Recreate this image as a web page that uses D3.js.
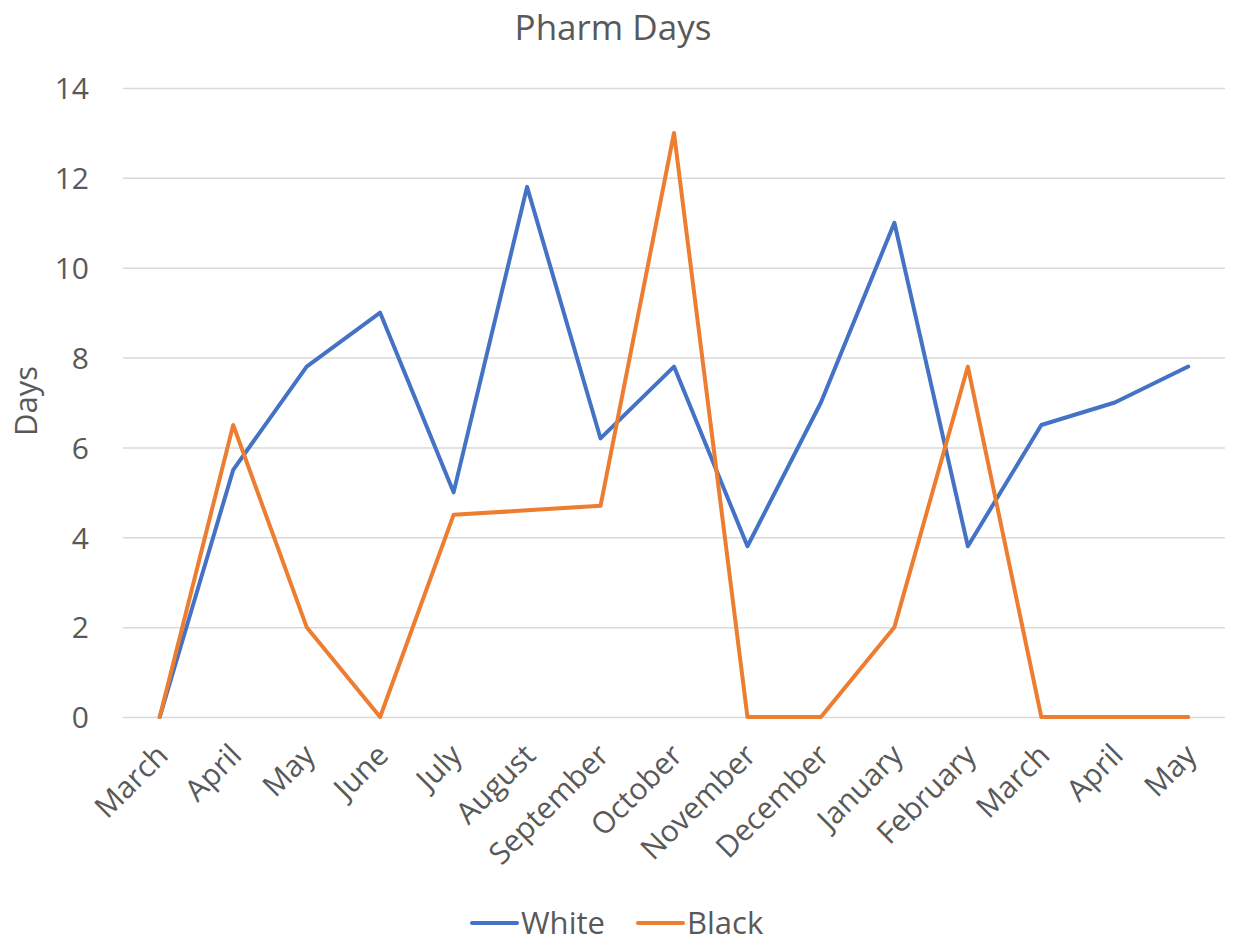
<!DOCTYPE html>
<html><head><meta charset="utf-8">
<script src="https://cdn.jsdelivr.net/npm/d3@7"></script>
<style>body{margin:0;background:#fff}text{font-family:"Open Sans",sans-serif;fill:#595959}</style>
</head><body>
<svg id="c" width="1237" height="948"></svg>
<script>
const months = ["March","April","May","June","July","August","September","October","November","December","January","February","March","April","May"];
const white = [0,5.5,7.8,9,5,11.8,6.2,7.8,3.8,7,11,3.8,6.5,7,7.8];
const black = [0,6.5,2,0,4.5,4.6,4.7,13,0,0,2,7.8,0,0,0];
const yTicks = [0,2,4,6,8,10,12,14];
const seriesNames = ["White","Black"];
const colors = ["#4472C4","#ED7D31"];

(function(){
const svg = d3.select("#c");
const pL = 123, pR = 1225, pT = 88, pB = 717;
const x = d3.scaleBand().domain(d3.range(months.length)).range([pL, pR]);
const y = d3.scaleLinear().domain([0,14]).range([pB, pT]);

svg.append("text").attr("x", 613).attr("y", 40).attr("text-anchor","middle")
  .style("font-size","35px").text("Pharm Days");

const yAxis = svg.append("g").attr("transform",`translate(${pL},0)`)
  .call(d3.axisLeft(y).tickValues(yTicks).tickSize(-(pR-pL)).tickPadding(34));
yAxis.select(".domain").remove();
yAxis.selectAll(".tick line").attr("stroke","#d9d9d9").attr("stroke-width",1.5);
yAxis.selectAll(".tick text").style("font-size","30px").attr("dy","0.36em");

const xAxis = svg.append("g").attr("transform",`translate(0,${pB})`)
  .call(d3.axisBottom(x).tickSize(0).tickFormat(i => months[i]));
xAxis.select(".domain").remove();
xAxis.selectAll(".tick text").style("font-size","30px")
  .attr("text-anchor","end").attr("dy","0").attr("dx","0")
  .attr("transform","translate(8,38) rotate(-45)");

svg.append("text").attr("transform","translate(37,401) rotate(-90)")
  .attr("text-anchor","middle").style("font-size","31px").text("Days");

const line = d3.line().x((d,i)=>x(i)+x.bandwidth()/2).y(d=>y(d));
[white, black].forEach((s,k)=>{
  svg.append("path").datum(s).attr("d",line).attr("fill","none")
    .attr("stroke",colors[k]).attr("stroke-width",4).attr("stroke-linejoin","round").attr("stroke-linecap","round");
});

const legX = [472, 638];
seriesNames.forEach((n,k)=>{
  svg.append("line").attr("x1",legX[k]).attr("x2",legX[k]+45).attr("y1",923).attr("y2",923)
    .attr("stroke",colors[k]).attr("stroke-width",4).attr("stroke-linecap","round");
  svg.append("text").attr("x",legX[k]+49).attr("y",934).style("font-size","31px").text(n);
});
})();
</script>
</body></html>
